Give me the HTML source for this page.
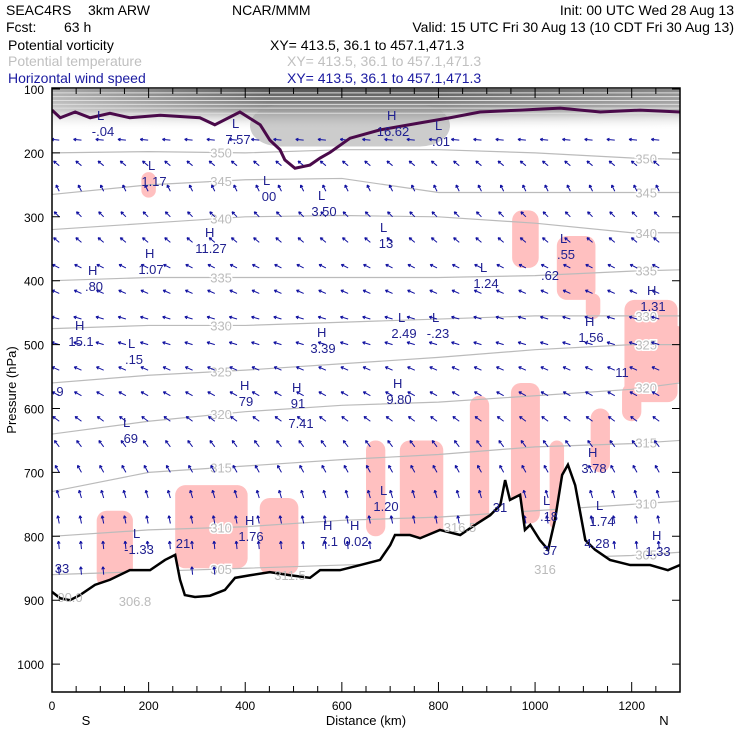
<!DOCTYPE html>
<html><head><meta charset="utf-8"><style>
body{margin:0;background:#fff;}
svg{display:block;font-family:"Liberation Sans",sans-serif;}
text{white-space:pre;}
</style></head><body>
<svg id="chart" width="740" height="740" viewBox="0 0 740 740">
<rect width="740" height="740" fill="#fff"/>
<g font-size="14">
<text x="6" y="15">SEAC4RS</text>
<text x="88" y="15">3km ARW</text>
<text x="232" y="15">NCAR/MMM</text>
<text x="734" y="15" text-anchor="end">Init: 00 UTC Wed 28 Aug 13</text>
<text x="6" y="32">Fcst:</text>
<text x="64" y="32">63 h</text>
<text x="734" y="32" text-anchor="end">Valid: 15 UTC Fri 30 Aug 13 (10 CDT Fri 30 Aug 13)</text>
<text x="8" y="50">Potential vorticity</text>
<text x="270" y="50">XY= 413.5, 36.1 to 457.1,471.3</text>
<text x="8" y="66" fill="#c0c0c0">Potential temperature</text>
<text x="287" y="66" fill="#c0c0c0">XY= 413.5, 36.1 to 457.1,471.3</text>
<text x="8" y="83" fill="#1a1aa0">Horizontal wind speed</text>
<text x="287" y="83" fill="#1a1aa0">XY= 413.5, 36.1 to 457.1,471.3</text>
</g>
<defs>
<clipPath id="plotclip"><rect x="52" y="88" width="628" height="604"/></clipPath>
<linearGradient id="topg" x1="0" y1="0" x2="0" y2="1">
<stop offset="0" stop-color="#555"/><stop offset="0.5" stop-color="#999"/><stop offset="1" stop-color="#fff" stop-opacity="0"/></linearGradient>
<linearGradient id="topx" x1="0" y1="0" x2="1" y2="0">
<stop offset="0" stop-color="#fff" stop-opacity="0.5"/><stop offset="0.35" stop-color="#fff" stop-opacity="0"/><stop offset="0.6" stop-color="#fff" stop-opacity="0"/><stop offset="1" stop-color="#fff" stop-opacity="0.3"/></linearGradient>
</defs>
<g id="plot" clip-path="url(#plotclip)"></g>
<g id="axes"></g>
</svg>
<script>
const distTicks=[0,200,400,600,800,1000,1200];
const presTicks=[100,200,300,400,500,600,700,800,900,1000];
// terrain (km, hPa)
const terrKm=[0,17,37,58,89,120,161,203,234,255,265,275,296,327,358,379,410,451,493,534,555,596,638,679,700,710,741,762,803,845,876,907,928,938,948,969,979,990,1010,1027,1041,1056,1068,1083,1104,1124,1155,1197,1238,1275,1300];
const terrP=[887,897,900,892,876,868,853,853,837,829,868,892,895,893,884,865,861,856,861,865,853,853,845,837,814,798,798,803,790,798,782,767,751,712,743,735,790,782,806,821,775,704,688,720,806,821,837,845,845,853,845];
// potential temperature contours (K) : pressure at km positions
const thetaKm=[0,200,400,600,800,1000,1200,1300];
const thetaLevels=[350,345,340,335,330,325,320,315,310,305];
const thetaP=[
[200,198,200,195,195,200,208,210],
[265,250,242,240,262,262,262,262],
[320,310,300,298,300,310,325,325],
[400,395,395,395,395,392,385,383],
[475,470,470,465,460,455,455,455],
[560,548,540,530,520,508,500,500],
[640,620,605,595,590,580,570,560],
[730,700,690,680,672,660,655,650],
[800,790,785,775,770,760,750,745],
[860,855,850,845,840,835,830,825]];
const upperThetaP=[106,112,118,124,130,138];
// PV contour (km, hPa)
const pvKm=[0,17,48,79,120,161,224,306,337,389,431,451,472,482,503,534,555,576,617,679,762,824,886,969,1052,1135,1217,1300];
const pvP=[133,145,136,145,138,145,141,145,156,136,156,180,195,211,224,219,208,199,177,164,153,145,136,133,130,136,133,136];
// cloud (pink) regions: center km, top hPa, bottom hPa, width km
const cloudKm=[200,980,1085,1240,1120,130,330,470,670,765,885,980,1045,1135,140,1200,1270];
const cloudTop=[230,290,330,430,420,760,720,740,650,650,580,560,650,600,820,560,470];
const cloudBot=[270,380,430,590,460,880,850,860,800,810,800,780,790,700,880,620,560];
const cloudW=[30,55,80,110,30,75,150,80,40,90,40,60,30,40,40,40,80];
// wind vectors by pressure level
const windLev=[180,220,260,300,340,380,420,460,500,540,580,620,660,700,740,780,820,860];
const windU=[-1,-0.6,-0.3,-0.5,-0.6,-0.8,-0.9,-1,-1,-0.9,-0.9,-0.8,-0.6,-0.5,-0.3,-0.2,-0.1,-0.1];
const windV=[0.1,0.5,0.6,0.5,0.5,0.4,0.4,0.3,0.3,0.4,0.5,0.6,0.8,0.9,1,1,1,1];
const NS='http://www.w3.org/2000/svg';
const X0=52,X1=680,Y0=89;
function xs(km){return X0+km*(X1-X0)/1300;}
function ys(p){return Y0+(p-100)*0.639;}
const plot=document.getElementById('plot'),axes=document.getElementById('axes');
function mk(tag,attrs,parent){const e=document.createElementNS(NS,tag);for(const k in attrs)e.setAttribute(k,attrs[k]);parent.appendChild(e);return e;}
let e=mk('rect',{x:X0,y:Y0,width:X1-X0,height:ys(165)-Y0,fill:'url(#topg)'},plot);


e=mk('rect',{x:X0,y:Y0,width:X1-X0,height:ys(165)-Y0,fill:'url(#topx)'},plot);


e=mk('rect',{x:250,y:ys(125),width:200,height:ys(190)-ys(125),fill:'#999',opacity:0.5,rx:30},plot);


upperThetaP.forEach(p=>{const l=mk('line',{x1:X0,x2:X1,y1:ys(p),y2:ys(p),stroke:'#ddd','stroke-width':1},plot);

});
cloudKm.forEach((k,i)=>{const cx=xs(k),w=cloudW[i]*0.483/2,t=ys(cloudTop[i]),b=ys(cloudBot[i]);
const r=mk('rect',{x:cx-w,y:t,width:2*w,height:b-t,rx:Math.min(w,10),fill:'#ffc0c0'},plot);

});
thetaLevels.forEach((lv,i)=>{let d='';thetaKm.forEach((k,j)=>{d+=(j?'L':'M')+xs(k)+','+ys(thetaP[i][j]);});
const pth=mk('path',{d:d,fill:'none',stroke:'#bbb','stroke-width':1.2},plot);


[350,1230].forEach(k=>{const j=Math.min(6,Math.floor(k/200));const p=thetaP[i][j]+(thetaP[i][j+1]-thetaP[i][j])*(k-thetaKm[j])/(thetaKm[j+1]-thetaKm[j]);
const t=mk('text',{x:xs(k),y:ys(p)+5,'font-size':13,fill:'#bbb','text-anchor':'middle',stroke:'#fff','stroke-width':3,'paint-order':'stroke'},plot);t.textContent=lv;

});});
function terrAt(k){for(let i=1;i<terrKm.length;i++){if(k<=terrKm[i]){const f=(k-terrKm[i-1])/(terrKm[i]-terrKm[i-1]);return terrP[i-1]+f*(terrP[i]-terrP[i-1]);}}return terrP[terrP.length-1];}
for(let k=15;k<1300;k+=46){windLev.forEach((p,i)=>{if(p>terrAt(k)-5)return;const x=xs(k),y=ys(p);const u=windU[i],v=windV[i];const L=Math.hypot(u,v)||1;const len=5+3*L;const dx=u/L*len,dy=-v/L*len;
const x2=x+dx,y2=y+dy;const a=Math.atan2(dy,dx);
const g=mk('path',{d:`M${x},${y}L${x2},${y2}M${x2},${y2}L${x2-3*Math.cos(a-0.5)},${y2-3*Math.sin(a-0.5)}M${x2},${y2}L${x2-3*Math.cos(a+0.5)},${y2-3*Math.sin(a+0.5)}`,stroke:'#1010a0','stroke-width':1,fill:'none'},plot);

});}
let td='M'+xs(0)+','+ys(terrP[0]);terrKm.forEach((k,i)=>{td+='L'+xs(k)+','+ys(terrP[i]);});
const mask=mk('path',{d:td+'L'+X1+',700L'+X0+',700Z',fill:'#fff'},plot);


const tl=mk('path',{d:td,fill:'none',stroke:'#000','stroke-width':2.5},plot);


let pd='';pvKm.forEach((k,i)=>{pd+=(i?'L':'M')+xs(k)+','+ys(pvP[i]);});
const pv=mk('path',{d:pd,fill:'none',stroke:'#4a0a4a','stroke-width':3},plot);


const ann=[['L',97,120,'-.04'],['L',232,128,'7.57'],['H',387,120,'16.62'],['L',435,130,'.01'],['L',148,170,'1.17'],['L',263,185,'00'],['L',318,200,'3.50'],['H',205,237,'11.27'],['L',380,232,'13'],['H',145,258,'1.07'],['L',560,243,'.55'],['H',88,275,'.80'],['L',480,272,'1.24'],['H',647,295,'1.31'],['H',75,330,'15.1'],['L',398,322,'2.49'],['L',432,322,'-.23'],['H',317,337,'3.39'],['H',585,326,'1.56'],['L',128,348,'.15'],['H',240,390,'79'],['H',292,392,'91'],['H',393,388,'9.80'],['L',123,427,'.69'],['H',588,457,'3.78'],['L',380,495,'1.20'],['L',543,505,'.18'],['L',596,510,'1.74'],['H',245,525,'1.76'],['H',323,530,'7.1'],['H',350,530,'0.02'],['L',133,538,'-1.33'],['H',652,540,'1.33']];
ann.forEach(a=>{const t=mk('text',{x:a[1],y:a[2],'font-size':13,fill:'#202090'},plot);t.textContent=a[0];


const v=mk('text',{x:a[1]+6,y:a[2]+16,'font-size':13,fill:'#202090','text-anchor':'middle'},plot);v.textContent=a[3];

});
const extra=[[622,377,'11'],[60,396,'9'],[301,428,'7.41'],[550,280,'.62'],[500,512,'31'],[597,548,'4.28'],[550,555,'37'],[62,573,'33'],[183,548,'21']];
extra.forEach(a=>{const t=mk('text',{x:a[0],y:a[1],'font-size':13,fill:'#202090','text-anchor':'middle'},plot);t.textContent=a[2];

});
const gl=[[135,606,'306.8'],[290,580,'311.5'],[460,532,'316.5'],[545,574,'316'],[70,602,'00.0']];
gl.forEach(a=>{const t=mk('text',{x:a[0],y:a[1],'font-size':13,fill:'#bbb','text-anchor':'middle'},plot);t.textContent=a[2];

});
const fr=mk('rect',{x:X0,y:88,width:X1-X0,height:604,fill:'none',stroke:'#000','stroke-width':1.5},axes);


for(let k=0;k<=1300;k+=50){const x=xs(k),L=(k%200===0)?10:6;
const t=mk('path',{d:`M${x},692v${-L}M${x},88v${L}`,stroke:'#000','stroke-width':1},axes);

}
distTicks.forEach(k=>{const t=mk('text',{x:xs(k),y:710,'font-size':12,'text-anchor':'middle'},axes);t.textContent=k;

});
presTicks.forEach(p=>{const y=ys(p);const t=mk('path',{d:`M52,${y}h8M680,${y}h-8`,stroke:'#000','stroke-width':1},axes);


const l=mk('text',{x:44,y:y+5,'font-size':12,'text-anchor':'end'},axes);l.textContent=p;

});
let t=mk('text',{x:366,y:725,'font-size':13,'text-anchor':'middle'},axes);t.textContent='Distance (km)';


t=mk('text',{x:86,y:725,'font-size':13,'text-anchor':'middle'},axes);t.textContent='S';


t=mk('text',{x:664,y:725,'font-size':13,'text-anchor':'middle'},axes);t.textContent='N';


t=mk('text',{x:0,y:0,'font-size':13,'text-anchor':'middle',transform:'translate(16,390) rotate(-90)'},axes);t.textContent='Pressure (hPa)';


</script>
</body></html>
